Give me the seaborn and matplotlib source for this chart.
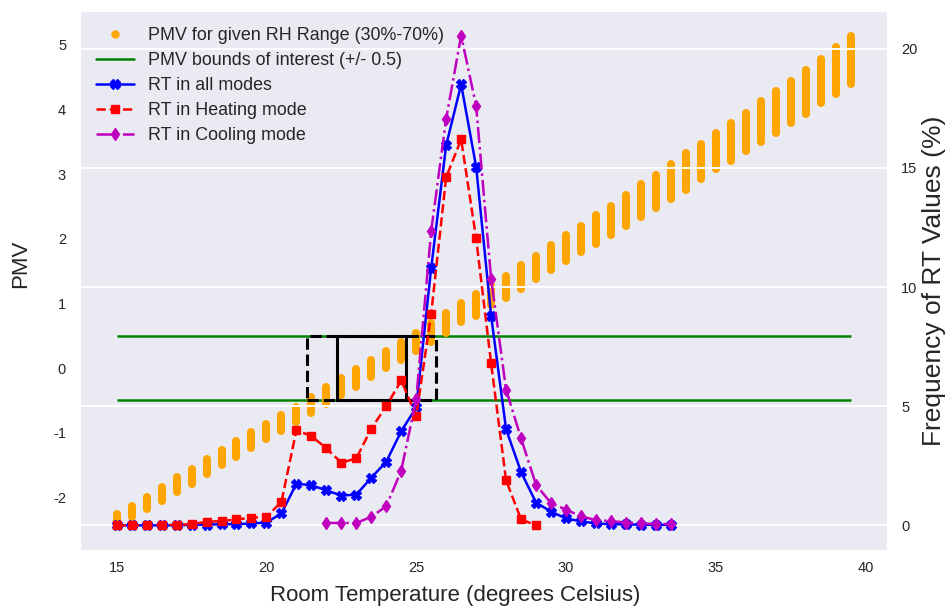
import numpy as np
import pandas as pd
import matplotlib
matplotlib.use('Agg')
import matplotlib.pyplot as plt
import seaborn as sns
from matplotlib.lines import Line2D
from matplotlib.patches import Rectangle

# PMV for RH 30% and 70% at each room temperature
pmv_temps = [15.0, 15.5, 16.0, 16.5, 17.0, 17.5, 18.0, 18.5, 19.0, 19.5,
             20.0, 20.5, 21.0, 21.5, 22.0, 22.5, 23.0, 23.5, 24.0, 24.5,
             25.0, 25.5, 26.0, 26.5, 27.0, 27.5, 28.0, 28.5, 29.0, 29.5,
             30.0, 30.5, 31.0, 31.5, 32.0, 32.5, 33.0, 33.5, 34.0, 34.5,
             35.0, 35.5, 36.0, 36.5, 37.0, 37.5, 38.0, 38.5, 39.0, 39.5]
pmv_rh30 = [-2.43, -2.30, -2.17, -2.05, -1.92, -1.79, -1.63, -1.49, -1.37, -1.24,
            -1.09, -0.97, -0.84, -0.69, -0.56, -0.42, -0.29, -0.14, 0.00, 0.13,
            0.27, 0.41, 0.55, 0.71, 0.81, 0.97, 1.09, 1.22, 1.38, 1.51,
            1.66, 1.79, 1.92, 2.05, 2.20, 2.33, 2.48, 2.61, 2.76, 2.92,
            3.08, 3.20, 3.35, 3.49, 3.64, 3.79, 3.93, 4.09, 4.24, 4.39]
pmv_rh70 = [-2.25, -2.13, -1.99, -1.83, -1.69, -1.56, -1.41, -1.27, -1.13, -0.99,
            -0.86, -0.72, -0.60, -0.44, -0.29, -0.15, -0.02, 0.13, 0.27, 0.40,
            0.55, 0.70, 0.85, 1.00, 1.15, 1.28, 1.43, 1.59, 1.74, 1.90,
            2.05, 2.20, 2.36, 2.51, 2.67, 2.84, 2.99, 3.16, 3.32, 3.47,
            3.63, 3.79, 3.95, 4.13, 4.29, 4.44, 4.61, 4.78, 4.96, 5.14]
pmv_bounds = [-0.5, 0.5]
box_solid = [22.35, 24.65]
box_dashed = [21.35, 25.65]

# frequency of room temperature values (%)
rt_all_temps = [15.0, 15.5, 16.0, 16.5, 17.0, 17.5, 18.0, 18.5, 19.0, 19.5,
                20.0, 20.5, 21.0, 21.5, 22.0, 22.5, 23.0, 23.5, 24.0, 24.5,
                25.0, 25.5, 26.0, 26.5, 27.0, 27.5, 28.0, 28.5, 29.0, 29.5,
                30.0, 30.5, 31.0, 31.5, 32.0, 32.5, 33.0, 33.5]
rt_all = [0.0, 0.0, 0.0, 0.0, 0.0, 0.02, 0.03, 0.05, 0.05, 0.08,
          0.12, 0.5, 1.75, 1.68, 1.47, 1.25, 1.29, 2.0, 2.67, 3.95,
          4.95, 10.8, 15.95, 18.5, 15.05, 8.8, 4.03, 2.24, 0.95, 0.58,
          0.29, 0.17, 0.08, 0.05, 0.04, 0.03, 0.02, 0.02]
rt_heat_temps = [15.0, 15.5, 16.0, 16.5, 17.0, 17.5, 18.0, 18.5, 19.0, 19.5,
                 20.0, 20.5, 21.0, 21.5, 22.0, 22.5, 23.0, 23.5, 24.0, 24.5,
                 25.0, 25.5, 26.0, 26.5, 27.0, 27.5, 28.0, 28.5, 29.0]
rt_heat = [0.0, 0.0, 0.0, 0.02, 0.02, 0.05, 0.15, 0.18, 0.25, 0.32,
           0.36, 0.98, 3.99, 3.75, 3.23, 2.63, 2.81, 4.06, 5.0, 6.08,
           4.59, 8.88, 14.61, 16.19, 12.04, 6.8, 1.89, 0.25, 0.0]
rt_cool_temps = [22.0, 22.5, 23.0, 23.5, 24.0, 24.5, 25.0, 25.5, 26.0, 26.5,
                 27.0, 27.5, 28.0, 28.5, 29.0, 29.5, 30.0, 30.5, 31.0, 31.5,
                 32.0, 32.5, 33.0, 33.5]
rt_cool = [0.1, 0.1, 0.1, 0.36, 0.8, 2.3, 5.3, 12.35, 17.06, 20.55,
           17.6, 10.35, 5.7, 3.65, 1.7, 0.93, 0.66, 0.38, 0.22, 0.18,
           0.12, 0.08, 0.06, 0.05]

sns.set_style('darkgrid')
plt.rcParams['font.family'] = ['Liberation Sans', 'DejaVu Sans']
plt.rcParams['axes.unicode_minus'] = False

fig, ax1 = plt.subplots(figsize=(9.52, 6.13), dpi=100)
fig.subplots_adjust(left=0.084, right=0.932, bottom=0.103, top=0.982)
ax1.grid(False)

# PMV range as vertical runs of dots
ax1.vlines(pmv_temps, pmv_rh30, pmv_rh70, color='orange', lw=5.8,
           capstyle='round', zorder=2)
ax1.hlines(pmv_bounds, pmv_temps[0], pmv_temps[-1], color='g', lw=1.8, zorder=1)
ax1.add_patch(Rectangle((box_solid[0], pmv_bounds[0]), box_solid[1] - box_solid[0],
                        pmv_bounds[1] - pmv_bounds[0], fill=False, ec='k', lw=2.2, zorder=3))
ax1.add_patch(Rectangle((box_dashed[0], pmv_bounds[0]), box_dashed[1] - box_dashed[0],
                        pmv_bounds[1] - pmv_bounds[0], fill=False, ec='k', lw=2.2,
                        ls='--', zorder=3))

ax1.set_yticks([-2, -1, 0, 1, 2, 3, 4, 5])
ax1.set_xticks([15, 20, 25, 30, 35, 40])
ax1.set_xlabel('Room Temperature (degrees Celsius)', fontsize=16, color='.15')
ax1.set_ylabel('PMV', fontsize=16, color='.15')
ax1.xaxis.set_label_coords(0.465, -0.066)
ax1.yaxis.set_label_coords(-0.061, 0.53)
ax1.tick_params(axis='both', labelsize=10.5, labelcolor='.15', length=0)
ax1.tick_params(axis='x', pad=8)
ax1.tick_params(axis='y', pad=10)

ax2 = ax1.twinx()
ax2.grid(True, axis='y', color='white', lw=1.4)
sns.lineplot(x=rt_all_temps, y=rt_all, ax=ax2, color='b', marker='X', ms=7,
             mec='b', mew=1, lw=1.8, label='RT in all modes')
sns.lineplot(x=rt_heat_temps, y=rt_heat, ax=ax2, color='r', marker='s', ms=6,
             mec='r', mew=1, lw=1.8, linestyle='--', label='RT in Heating mode')
sns.lineplot(x=rt_cool_temps, y=rt_cool, ax=ax2, color='m', marker='d', ms=6,
             mec='m', mew=1, lw=1.8, linestyle='-.', label='RT in Cooling mode')
ax2.set_yticks([0, 5, 10, 15, 20])
ax2.set_ylabel('Frequency of RT Values (%)', fontsize=19, color='.15')
ax2.yaxis.set_label_coords(1.043, 0.5)
ax2.tick_params(axis='y', labelsize=10.5, labelcolor='.15', length=0, pad=10)
for s in ax2.spines.values():
    s.set_visible(False)

handles, labels = ax2.get_legend_handles_labels()
pmv_proxy = Line2D([], [], color='orange', marker='o', ls='none', ms=5)
bound_proxy = Line2D([], [], color='g', lw=1.8)
ax2.legend([pmv_proxy, bound_proxy] + handles,
           ['PMV for given RH Range (30%-70%)', 'PMV bounds of interest (+/- 0.5)'] + labels,
           loc='upper left', frameon=False, fontsize=12.9, labelspacing=0.45,
           handlelength=2.1)

fig.savefig('out.png', dpi=100)
